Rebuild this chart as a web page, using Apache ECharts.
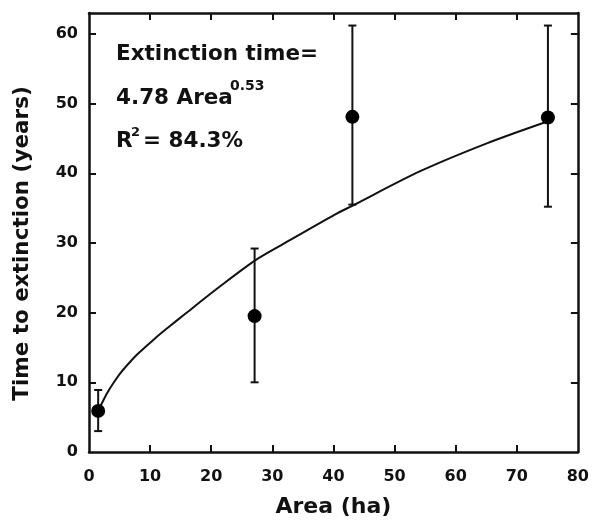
<!DOCTYPE html>
<html>
<head>
<meta charset="utf-8">
<script src="https://cdn.jsdelivr.net/npm/echarts@6/dist/echarts.min.js"></script>
<style>html,body{margin:0;padding:0;background:#fff}#c{width:592px;height:523px}</style>
</head>
<body>
<div id="c"></div>
<script>
const areas = [1.5, 27.1, 43.1, 75.1];
const meanTimes = [5.9, 19.5, 48.1, 48.0];
const errLow = [3.0, 10.0, 35.5, 35.2];
const errHigh = [8.9, 29.2, 61.2, 61.2];
// Fitted curve, points
const curveX = [1.5, 2.0, 3.0, 4.0, 5.3, 7.0, 8.0, 10.8, 13.0, 15.7, 21.2, 27.2, 32.1, 40.3, 43.0, 54.2, 65.1, 74.9];
const curveY = [5.9, 6.8, 8.5, 9.9, 11.5, 13.2, 14.1, 16.3, 17.9, 19.8, 23.6, 27.5, 30.0, 34.1, 35.3, 40.3, 44.3, 47.4];
const xTicks = [0, 10, 20, 30, 40, 50, 60, 70, 80];
const yTicks = [0, 10, 20, 30, 40, 50, 60];

const FONT = '"DejaVu Sans", "Liberation Sans", Arial, sans-serif';
const INK = '#111';

const chart = echarts.init(document.getElementById('c'), null, {renderer: 'canvas'});

const axisLine = {show: true, onZero: false, lineStyle: {color: INK, width: 2.5}};
const tickInside = {show: true, inside: true, length: 7, lineStyle: {color: INK, width: 2}};

chart.setOption({
  animation: false,
  backgroundColor: '#fff',
  grid: {left: 89, right: 14, top: 13, bottom: 69, containLabel: false},
  xAxis: [
    {
      type: 'value', min: 0, max: 80, interval: 10, position: 'bottom',
      name: 'Area (ha)', nameLocation: 'middle', nameGap: 44,
      nameTextStyle: {fontFamily: FONT, fontWeight: 'bold', fontSize: 22, color: INK},
      axisLine: axisLine,
      axisTick: Object.assign({}, tickInside, {customValues: xTicks.slice(1, -1)}),
      axisLabel: {fontFamily: FONT, fontWeight: 'bold', fontSize: 16, color: INK, margin: 17, customValues: xTicks},
      splitLine: {show: false}
    },
    {
      type: 'value', min: 0, max: 80, interval: 10, position: 'top',
      axisLine: axisLine,
      axisTick: Object.assign({}, tickInside, {customValues: xTicks.slice(1, -1)}),
      axisLabel: {show: false},
      splitLine: {show: false}
    }
  ],
  yAxis: [
    {
      type: 'value', min: 0, max: 63, position: 'left',
      name: 'Time to extinction (years)', nameLocation: 'middle', nameGap: 56,
      nameTextStyle: {fontFamily: FONT, fontWeight: 'bold', fontSize: 21.5, color: INK, padding: [0, 22, 0, 0]},
      axisLine: axisLine,
      axisTick: Object.assign({}, tickInside, {customValues: yTicks.slice(1)}),
      axisLabel: {fontFamily: FONT, fontWeight: 'bold', fontSize: 16, color: INK, margin: 11, customValues: yTicks},
      splitLine: {show: false}
    },
    {
      type: 'value', min: 0, max: 63, position: 'right',
      axisLine: axisLine,
      axisTick: Object.assign({}, tickInside, {customValues: yTicks.slice(1)}),
      axisLabel: {show: false},
      splitLine: {show: false}
    }
  ],
  series: [
    {
      type: 'line', name: 'fit', smooth: 0.3, showSymbol: false, symbol: 'none',
      lineStyle: {color: INK, width: 2},
      data: curveX.map((x, i) => [x, curveY[i]]),
      z: 2
    },
    {
      type: 'custom', name: 'error',
      data: areas.map((x, i) => [x, errLow[i], errHigh[i]]),
      renderItem: function (params, api) {
        const x = api.value(0);
        const pLo = api.coord([x, api.value(1)]);
        const pHi = api.coord([x, api.value(2)]);
        const cap = 4;
        const st = {stroke: INK, lineWidth: 2};
        return {
          type: 'group',
          children: [
            {type: 'line', shape: {x1: pLo[0], y1: pLo[1], x2: pHi[0], y2: pHi[1]}, style: st},
            {type: 'line', shape: {x1: pLo[0] - cap, y1: pLo[1], x2: pLo[0] + cap, y2: pLo[1]}, style: st},
            {type: 'line', shape: {x1: pHi[0] - cap, y1: pHi[1], x2: pHi[0] + cap, y2: pHi[1]}, style: st}
          ]
        };
      },
      z: 3
    },
    {
      type: 'scatter', name: 'mean', symbol: 'circle', symbolSize: 14,
      itemStyle: {color: '#000', opacity: 1},
      data: areas.map((x, i) => [x, meanTimes[i]]),
      z: 4
    }
  ],
  graphic: [
    {type: 'text', x: 116, y: 54.5, style: {text: 'Extinction time=', font: 'bold 21.5px ' + FONT, fill: INK, verticalAlign: 'middle'}},
    {type: 'text', x: 116, y: 98.5, style: {text: '4.78 Area', font: 'bold 21.5px ' + FONT, fill: INK, verticalAlign: 'middle'}},
    {type: 'text', x: 230, y: 86, style: {text: '0.53', font: 'bold 14px ' + FONT, fill: INK, verticalAlign: 'middle'}},
    {type: 'text', x: 116, y: 141, style: {text: 'R', font: 'bold 21.5px ' + FONT, fill: INK, verticalAlign: 'middle'}},
    {type: 'text', x: 131, y: 133, style: {text: '2', font: 'bold 13px ' + FONT, fill: INK, verticalAlign: 'middle'}},
    {type: 'text', x: 143, y: 141, style: {text: '= 84.3%', font: 'bold 21.5px ' + FONT, fill: INK, verticalAlign: 'middle'}}
  ]
});
</script>
</body>
</html>
